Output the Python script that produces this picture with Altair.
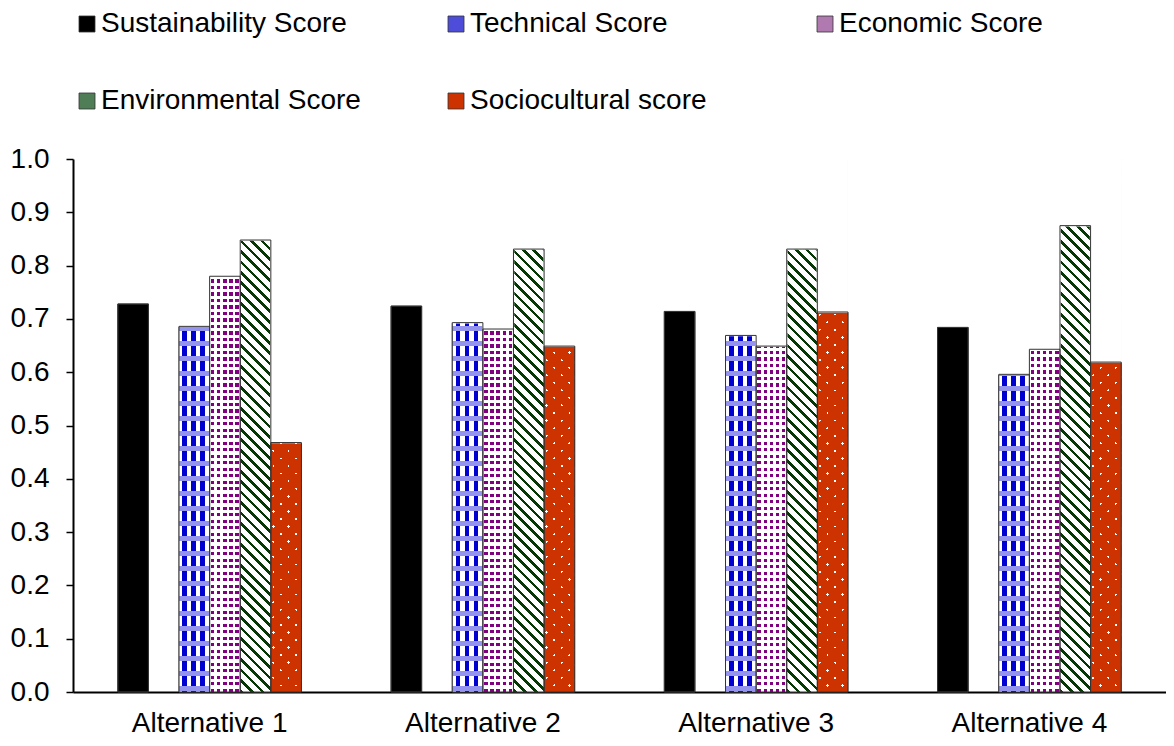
import math
import altair as alt
import pandas as pd

# ---------------- data ----------------
alternatives = ["Alternative 1", "Alternative 2", "Alternative 3", "Alternative 4"]
series_names = ["Sustainability Score", "Technical Score", "Economic Score",
                "Environmental Score", "Sociocultural score"]
sustainability = [0.728, 0.724, 0.714, 0.684]
technical = [0.686, 0.693, 0.669, 0.596]
economic = [0.780, 0.681, 0.649, 0.643]
environmental = [0.848, 0.831, 0.831, 0.875]
sociocultural = [0.468, 0.649, 0.713, 0.619]
y_ticks = [0.0, 0.1, 0.2, 0.3, 0.4, 0.5, 0.6, 0.7, 0.8, 0.9, 1.0]

series_values = [sustainability, technical, economic, environmental, sociocultural]
rows = []
for name, vals in zip(series_names, series_values):
    for a, v in zip(alternatives, vals):
        rows.append({"Alternative": a, "Series": name, "Value": v})
df = pd.DataFrame(rows)

# slot order inside each group (an empty slot after the first bar)
GAP = "(gap)"
slot_domain = [series_names[0], GAP] + series_names[1:]

legend_colors = ["#000000", "#4d4dd9", "#b07ab0", "#4f7d55", "#cc3300"]

# ---------------- geometry (style) ----------------
W, H = 1093, 533
PI, PO = 0.328, 0.164
step = W / (4 - PI + 2 * PO)
bar_w = step * (1 - PI) / len(slot_domain)
CLEAR = "rgba(255,255,255,0)"


def stops_for(L, period, on_width, phase, c_on, c_off):
    out = []
    s = (phase % period) - period
    while s < L:
        for a, b, c in ((s, s + on_width, c_on), (s + on_width, s + period, c_off)):
            a2, b2 = max(a, 0.0), min(b, L)
            if b2 > a2:
                out.append(alt.GradientStop(color=c, offset=round(a2 / L, 5)))
                out.append(alt.GradientStop(color=c, offset=round(b2 / L, 5)))
        s += period
    return out


def pattern(nx, ny, period, on_width, phase, c_on, c_off, w=bar_w, h=H):
    n = math.hypot(nx, ny)
    a, b = nx / n, ny / n
    L = abs(a) * w + abs(b) * h
    k = L / (a * a * w * w + b * b * h * h)
    u1 = 0.0 if a >= 0 else 1.0
    v1 = 0.0 if b >= 0 else 1.0
    return alt.LinearGradient(
        gradient="linear",
        stops=stops_for(L, period, on_width, phase, c_on, c_off),
        x1=u1, y1=v1, x2=u1 + k * a * w, y2=v1 + k * b * h,
    )


BLUE = "#0000d0"
PURPLE = "#800080"
GREEN = "#063806"
RED = "#cc3300"

blue_cols = pattern(1, 0, 9.0, 4.8, 3.3, BLUE, "#ffffff")
blue_bands = pattern(0, 1, 15.0, 5.0, 2.0, "#9494ee", CLEAR)
purple_cols = pattern(1, 0, bar_w / 5, 3.4, 1.3, PURPLE, "#ffffff")
purple_mask = pattern(0, 1, 6.5, 3.1, 0.0, "#ffffff", CLEAR)
green_diag = pattern(1, -1, 7.4, 2.6, 0.0, GREEN, "#ffffff")
red_lines = pattern(1, 1, 10.7, 1.8, 4.0, "#ffffff", RED)
red_mask = pattern(1, -1, 10.7, 8.9, 2.0, RED, CLEAR)

# ---------------- encodings ----------------
x_axis = alt.Axis(title=None, labelAngle=0, ticks=False, tickSize=0, labelPadding=17,
                  labelFontSize=28, domainWidth=2)
y_axis = alt.Axis(title=None, values=y_ticks, format=".1f", grid=False, tickSize=7,
                  tickWidth=1.5, labelPadding=17, labelFontSize=28, domainWidth=2)
y_scale = alt.Scale(domain=[0, 1], nice=False, zero=True)

x_enc = alt.X("Alternative:N", sort=alternatives,
              scale=alt.Scale(paddingInner=PI, paddingOuter=PO), axis=x_axis)
xo_enc = alt.XOffset("Series:N", scale=alt.Scale(domain=slot_domain, padding=0))
y_val = alt.Y("Value:Q", scale=y_scale, axis=y_axis)
y_top = alt.Y("Top:Q", scale=y_scale, axis=y_axis)

base = alt.Chart(df)

solid = base.mark_bar(stroke="#333333", strokeWidth=0.8).encode(
    x=x_enc, xOffset=xo_enc, y=y_val,
    color=alt.Color(
        "Series:N",
        scale=alt.Scale(domain=series_names, range=legend_colors),
        legend=alt.Legend(
            title=None, orient="none", legendX=0, legendY=-149, direction="horizontal",
            columns=3, columnPadding=81, rowPadding=49, gridAlign="all", padding=0,
            symbolType="square", symbolSize=256, symbolStrokeColor="#333333",
            symbolStrokeWidth=0.8, labelFontSize=28, labelOffset=0, labelLimit=500,
            labelColor="black",
        ),
    ),
)


def pat_layer(series, fill):
    return (base.transform_filter(alt.datum.Series == series)
            .transform_calculate(Top="1")
            .mark_bar(fill=fill)
            .encode(x=x_enc, xOffset=xo_enc, y=y_top))


layers = [
    solid,
    pat_layer("Technical Score", blue_cols),
    pat_layer("Technical Score", blue_bands),
    pat_layer("Economic Score", purple_cols),
    pat_layer("Economic Score", purple_mask),
    pat_layer("Environmental Score", green_diag),
    pat_layer("Sociocultural score", red_lines),
    pat_layer("Sociocultural score", red_mask),
]

cover = (base.transform_filter(alt.datum.Series != "Sustainability Score")
         .transform_calculate(Top="1")
         .mark_bar(fill="white", stroke="white", strokeWidth=1.5)
         .encode(x=x_enc, xOffset=xo_enc, y=y_val, y2=alt.Y2("Top:Q")))

outline = base.mark_bar(fill="transparent", stroke="#333333", strokeWidth=1).encode(
    x=x_enc, xOffset=xo_enc, y=y_val)

chart = (
    alt.layer(*layers, cover, outline)
    .properties(width=W, height=H, autosize="none",
                padding={"left": 65, "top": 151, "right": 0, "bottom": 46})
    .configure(font="Liberation Sans")
    .configure_view(strokeWidth=0)
    .configure_axis(labelColor="black", domainColor="black", tickColor="black",
                    labelFont="Liberation Sans")
    .configure_legend(labelFont="Liberation Sans")
)

chart.save("out.html", embed_options={"renderer": "svg", "actions": False})
